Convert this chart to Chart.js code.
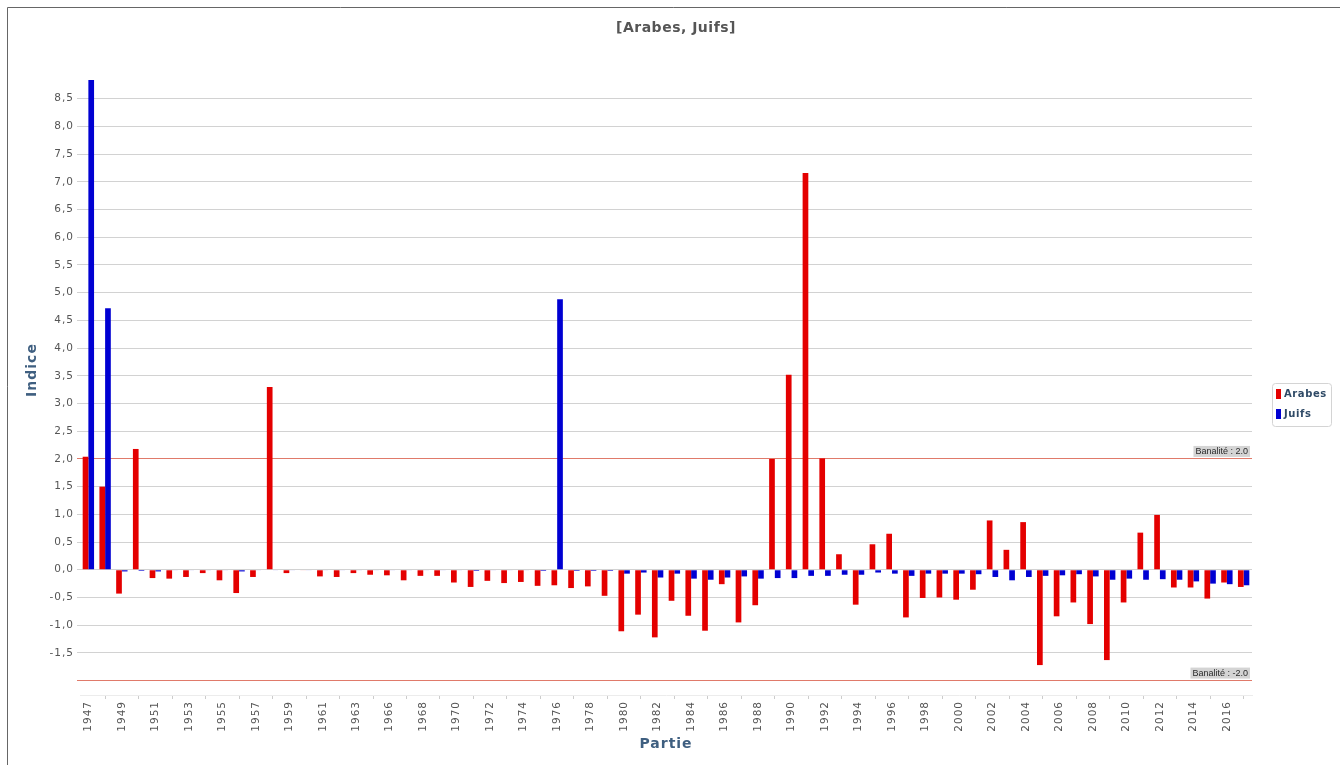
<!DOCTYPE html>
<html>
<head>
<meta charset="utf-8">
<title>[Arabes, Juifs]</title>
<script src="https://cdn.jsdelivr.net/npm/chart.js@4.4.1/dist/chart.umd.min.js"></script>
<style>
  html, body { margin: 0; padding: 0; background: #fff; }
  #box { position: relative; width: 1340px; height: 765px; }
</style>
</head>
<body>
<div id="box"><canvas id="indice"></canvas></div>
<script>
// parties (une année par partie, 1964 absente)
const parties = [
  '1947', '1948', '1949', '1950', '1951', '1952', '1953', '1954', '1955', '1956',
  '1957', '1958', '1959', '1960', '1961', '1962', '1963', '1965', '1966', '1967',
  '1968', '1969', '1970', '1971', '1972', '1973', '1974', '1975', '1976', '1977',
  '1978', '1979', '1980', '1981', '1982', '1983', '1984', '1985', '1986', '1987',
  '1988', '1989', '1990', '1991', '1992', '1993', '1994', '1995', '1996', '1997',
  '1998', '1999', '2000', '2001', '2002', '2003', '2004', '2005', '2006', '2007',
  '2008', '2009', '2010', '2011', '2012', '2013', '2014', '2015', '2016', '2017'
];

// indice des Arabes
const arabes = [
  2.04, 1.50, -0.43, 2.18, -0.15, -0.16, -0.13, -0.06, -0.19, -0.42,
  -0.13, 3.30, -0.06, -0.01, -0.12, -0.13, -0.06, -0.09, -0.10, -0.19,
  -0.11, -0.11, -0.23, -0.31, -0.20, -0.24, -0.22, -0.29, -0.28, -0.33,
  -0.30, -0.47, -1.11, -0.81, -1.22, -0.56, -0.83, -1.10, -0.26, -0.95,
  -0.64, 2.00, 3.52, 7.16, 2.01, 0.28, -0.63, 0.46, 0.65, -0.86,
  -0.51, -0.50, -0.54, -0.36, 0.89, 0.36, 0.86, -1.72, -0.84, -0.59,
  -0.98, -1.63, -0.59, 0.67, 0.99, -0.32, -0.32, -0.52, -0.23, -0.31
];

// indice des Juifs
const juifs = [
  8.84, 4.72, -0.03, -0.02, -0.03, -0.01, -0.01, -0.01, -0.01, -0.03,
  -0.01, -0.01, -0.01, -0.01, -0.01, -0.01, -0.01, -0.01, -0.01, -0.01,
  -0.01, -0.01, -0.01, -0.02, -0.01, -0.01, -0.01, -0.02, 4.88, -0.02,
  -0.02, -0.02, -0.07, -0.05, -0.14, -0.07, -0.16, -0.18, -0.14, -0.12,
  -0.16, -0.15, -0.15, -0.11, -0.11, -0.09, -0.09, -0.05, -0.07, -0.11,
  -0.07, -0.07, -0.07, -0.08, -0.13, -0.19, -0.13, -0.11, -0.10, -0.08,
  -0.12, -0.18, -0.16, -0.18, -0.17, -0.18, -0.21, -0.25, -0.26, -0.28
];

// seuils de banalité
const banalite = [2.0, -2.0];

const titre = '[Arabes, Juifs]';
const titreBleu = '#3f5f80';

// cadre, fond et titre
const cadre = {
  id: 'cadre',
  beforeDraw(chart) {
    const c = chart.ctx;
    c.save();
    c.fillStyle = '#fff';
    c.fillRect(0, 0, chart.width, chart.height);
    c.strokeStyle = '#666';
    c.lineWidth = 1;
    c.beginPath();
    c.moveTo(7.5, chart.height);
    c.lineTo(7.5, 7.5);
    c.lineTo(chart.width, 7.5);
    c.stroke();
    c.font = 'bold 14px "DejaVu Sans", sans-serif';
    c.letterSpacing = '0.5px';
    c.fillStyle = '#555';
    c.textAlign = 'center';
    c.textBaseline = 'middle';
    c.fillText(titre, 676, 28);
    c.restore();
    // texte des axes un peu espacé
    c.letterSpacing = '1px';
  },
  beforeDatasetsDraw(chart) {
    chart.ctx.letterSpacing = '0px';
  }
};

// étiquettes "Banalité : x"
const marqueurs = {
  id: 'marqueurs',
  afterDatasetsDraw(chart) {
    const c = chart.ctx;
    const y = chart.scales.y;
    const right = chart.chartArea.right;
    c.save();
    c.font = '9px "Liberation Sans", Arial, sans-serif';
    c.textBaseline = 'middle';
    banalite.forEach(v => {
      const py = y.getPixelForValue(v);
      const txt = 'Banalité : ' + v.toFixed(1);
      const w = c.measureText(txt).width + 4;
      c.fillStyle = '#d4d4d4';
      c.fillRect(right - w - 2, py - 13, w, 11);
      c.fillStyle = '#2a2a2a';
      c.fillText(txt, right - w, py - 7.5);
    });
    c.restore();
  }
};

// légende à droite
const legende = {
  id: 'legende',
  afterDraw(chart) {
    const c = chart.ctx;
    const x = 1272, top = 383, w = 59, h = 43;
    c.save();
    c.fillStyle = '#fff';
    c.strokeStyle = '#d4d4d4';
    c.lineWidth = 1;
    c.beginPath();
    c.roundRect(x + 0.5, top + 0.5, w, h, 3);
    c.fill();
    c.stroke();
    c.font = 'bold 10px "DejaVu Sans", sans-serif';
    c.letterSpacing = '0.6px';
    c.textBaseline = 'middle';
    chart.data.datasets.forEach((ds, i) => {
      const cy = top + 11 + i * 20;
      c.fillStyle = ds.backgroundColor;
      c.fillRect(x + 4, cy - 5, 5, 10);
      c.fillStyle = '#2f4a66';
      c.fillText(ds.label, x + 12, cy);
    });
    c.restore();
  }
};

const ctx = document.getElementById('indice');

new Chart(ctx, {
  type: 'bar',
  data: {
    labels: parties,
    datasets: [
      { label: 'Arabes', data: arabes, backgroundColor: '#e40000' },
      { label: 'Juifs', data: juifs, backgroundColor: '#0000d2' }
    ]
  },
  options: {
    responsive: true,
    maintainAspectRatio: false,
    animation: false,
    categoryPercentage: 0.68,
    barPercentage: 1.0,
    layout: { padding: { left: 20, right: 88, top: 45, bottom: 10 } },
    plugins: {
      legend: { display: false },
      tooltip: { enabled: false },
      title: { display: false }
    },
    scales: {
      x: {
        grid: {
          drawOnChartArea: false,
          offset: false,
          tickLength: 4,
          color: c => c.index % 2 === 1 ? '#cccccc' : 'rgba(0,0,0,0)'
        },
        border: { color: '#ececec' },
        ticks: {
          autoSkip: false,
          minRotation: 90,
          maxRotation: 90,
          padding: 2,
          color: '#555',
          font: { family: '"DejaVu Sans", sans-serif', size: 10.5 },
          callback: function (val, i) {
            return i % 2 === 0 ? this.getLabelForValue(val) : '';
          }
        },
        title: {
          display: true,
          text: 'Partie',
          color: titreBleu,
          font: { family: '"DejaVu Sans", sans-serif', size: 14, weight: 'bold' },
          padding: { top: 0, bottom: 2 }
        },
        afterFit: s => { s.height = 60; }
      },
      y: {
        min: -2.26,
        max: 9.47,
        afterBuildTicks: s => {
          const t = [];
          for (let v = -2.0; v <= 8.5001; v += 0.5) t.push({ value: Math.round(v * 10) / 10 });
          s.ticks = t;
        },
        grid: {
          tickLength: 3,
          color: c => banalite.includes(c.tick.value) ? '#e07a6a' : '#d2d2d2'
        },
        border: { display: false },
        ticks: {
          padding: 3,
          color: '#555',
          font: { family: '"DejaVu Sans", sans-serif', size: 10.5 },
          callback: v => v === -2 ? '' : v.toFixed(1).replace('.', ',')
        },
        title: {
          display: true,
          text: 'Indice',
          color: titreBleu,
          font: { family: '"DejaVu Sans", sans-serif', size: 14, weight: 'bold' },
          padding: { top: 4, bottom: 0 }
        },
        afterFit: s => { s.width = 60; }
      }
    }
  },
  plugins: [cadre, marqueurs, legende]
});
</script>
</body>
</html>
